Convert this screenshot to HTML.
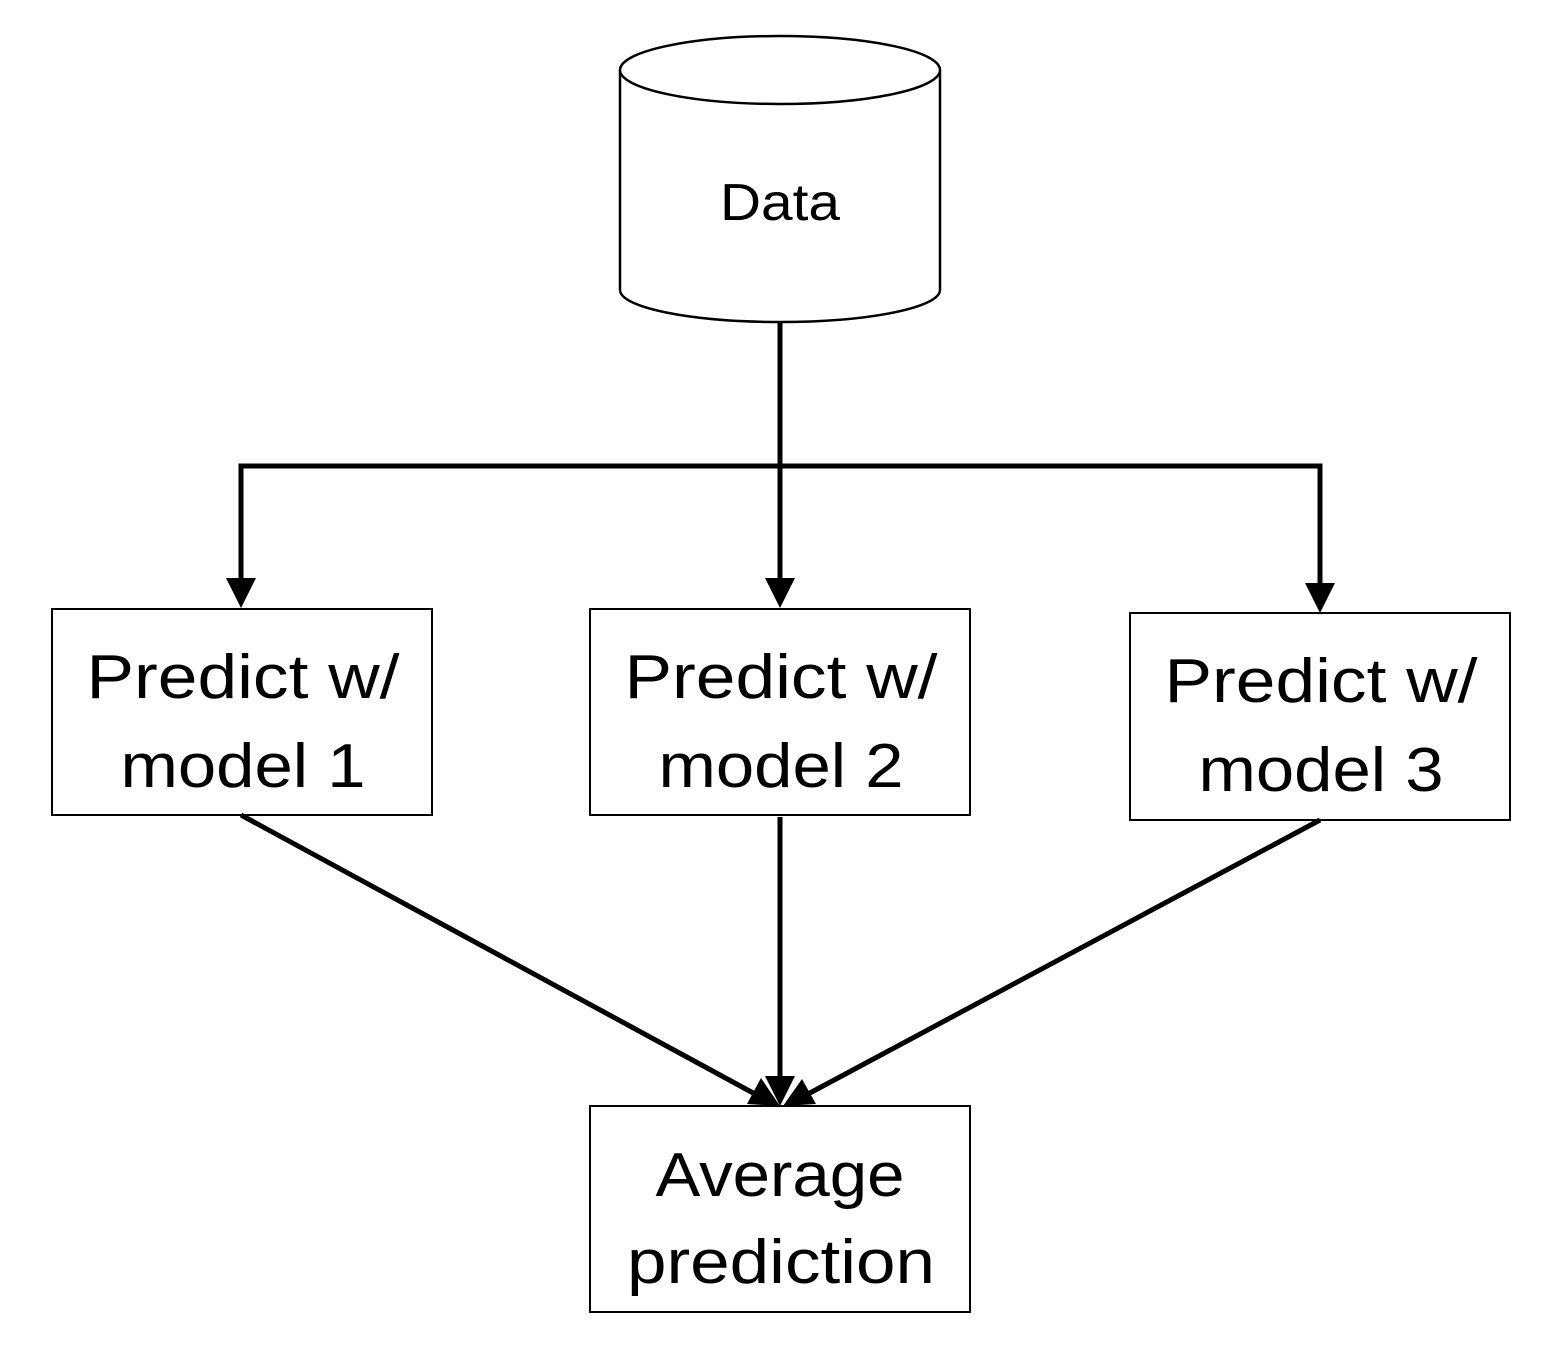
<!DOCTYPE html>
<html><head><meta charset="utf-8"><style>
html,body{margin:0;padding:0;background:#fff;}
svg{display:block;}
text{font-family:"Liberation Sans",sans-serif;fill:#000;}
</style></head><body>
<svg width="1548" height="1356" viewBox="0 0 1548 1356" xmlns="http://www.w3.org/2000/svg">
<!-- cylinder -->
<path d="M620,70 L620,290 A160,32 0 0 0 940,290 L940,70" fill="#fff" stroke="#000" stroke-width="2.5"/>
<ellipse cx="780" cy="70" rx="160" ry="34" fill="#fff" stroke="#000" stroke-width="2.5"/>
<text x="780" y="220" font-size="52" text-anchor="middle" textLength="120" lengthAdjust="spacingAndGlyphs">Data</text>
<!-- top connectors -->
<g stroke="#000" stroke-width="5" fill="none">
<line x1="780" y1="322" x2="780" y2="580"/>
<polyline points="241,580 241,466 1320,466 1320,585"/>
</g>
<g fill="#000">
<polygon points="226,578 256,578 241,608"/>
<polygon points="765,578 795,578 780,608"/>
<polygon points="1305,583 1335,583 1320,613"/>
</g>
<!-- boxes -->
<g fill="#fff" stroke="#000" stroke-width="2">
<rect x="52" y="609" width="380" height="206"/>
<rect x="590" y="609" width="380" height="206"/>
<rect x="1130" y="613" width="380" height="207"/>
<rect x="590" y="1106" width="380" height="206"/>
</g>
<g font-size="62" text-anchor="middle" lengthAdjust="spacingAndGlyphs">
<text x="243" y="698" textLength="313" lengthAdjust="spacingAndGlyphs">Predict w/</text>
<text x="243" y="787" textLength="245" lengthAdjust="spacingAndGlyphs">model 1</text>
<text x="781" y="698" textLength="313" lengthAdjust="spacingAndGlyphs">Predict w/</text>
<text x="781" y="787" textLength="245" lengthAdjust="spacingAndGlyphs">model 2</text>
<text x="1321" y="702" textLength="313" lengthAdjust="spacingAndGlyphs">Predict w/</text>
<text x="1321" y="791" textLength="245" lengthAdjust="spacingAndGlyphs">model 3</text>
<text x="780" y="1196" textLength="249" lengthAdjust="spacingAndGlyphs">Average</text>
<text x="781" y="1283" textLength="308" lengthAdjust="spacingAndGlyphs">prediction</text>
</g>
<!-- bottom connectors -->
<g stroke="#000" stroke-width="5" fill="none">
<line x1="241" y1="815" x2="755" y2="1094"/>
<line x1="780" y1="817" x2="780" y2="1080"/>
<line x1="1320" y1="820" x2="808" y2="1094"/>
</g>
<g fill="#000">
<polygon points="780,1106 747,1104 761,1078"/>
<polygon points="765,1076 795,1076 780,1106"/>
<polygon points="783,1106 802,1079 816,1104"/>
</g>
</svg>
</body></html>
